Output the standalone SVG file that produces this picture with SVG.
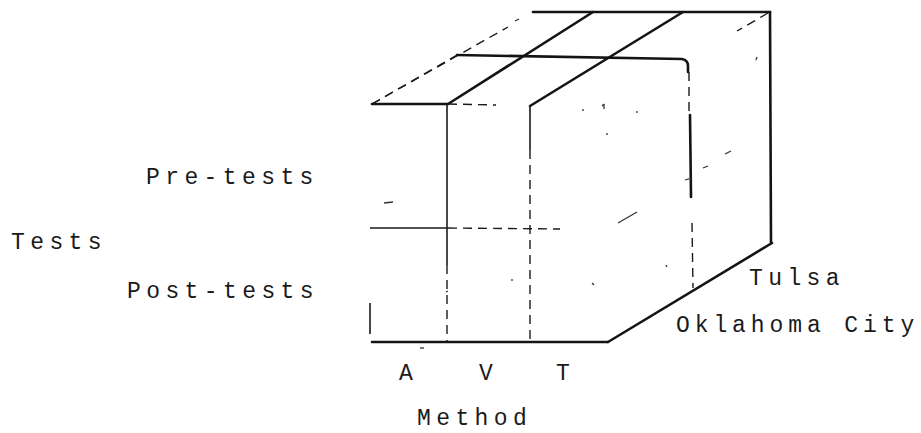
<svg xmlns="http://www.w3.org/2000/svg" width="921" height="433" viewBox="0 0 921 433">
<style>
.t{font-family:"Liberation Mono","Courier New",monospace;font-size:23px;letter-spacing:5.4px;fill:#1a1a1a}
.k{stroke:#141414;stroke-width:2.6;fill:none;stroke-linecap:round}
.m{stroke:#1a1a1a;stroke-width:1.6;fill:none}
.d{stroke:#1a1a1a;stroke-width:1.4;fill:none;stroke-dasharray:9 6}
.s{stroke:#333;stroke-width:1.3;fill:none}
</style>
<rect width="921" height="433" fill="#fff"/>
<g id="cube">
  <line class="k" x1="533" y1="12" x2="770" y2="12"/>
  <line class="d" x1="372" y1="104" x2="508" y2="27" stroke-width="1.8"/>
  <line class="s" x1="515" y1="21" x2="519" y2="19"/>
  <line class="k" x1="448" y1="104" x2="593" y2="12"/>
  <line class="k" x1="530" y1="106" x2="683" y2="12"/>
  <path class="k" d="M457 55 L682 59 Q688 60 688 66 L688 72" stroke-width="2"/>
  <line class="d" x1="372" y1="104" x2="457" y2="55" stroke-width="1.6"/>
  <line class="d" x1="768" y1="13" x2="737" y2="31"/>
  <line class="k" x1="372" y1="104" x2="448" y2="104" stroke-width="2"/>
  <line class="d" x1="448" y1="104" x2="496" y2="105" stroke-dasharray="14 4"/>
  <line class="m" x1="447" y1="104" x2="447" y2="265"/>
  <line class="d" x1="447" y1="265" x2="447" y2="342" stroke-dasharray="16 4"/>
  <line class="m" x1="530" y1="106" x2="530" y2="150"/>
  <line class="d" x1="530" y1="150" x2="530" y2="342" stroke-dasharray="14 7"/>
  <line class="m" x1="370" y1="303" x2="370" y2="334"/>
  <line class="m" x1="370" y1="228" x2="448" y2="228" stroke-width="2"/>
  <line class="d" x1="448" y1="228" x2="560" y2="229"/>
  <line class="k" x1="372" y1="342" x2="608" y2="342" stroke-width="2"/>
  <line class="k" x1="770" y1="12" x2="771" y2="243" stroke-width="3"/>
  <line class="k" x1="608" y1="342" x2="772" y2="243" stroke-width="2.2"/>
  <line class="d" x1="689" y1="72" x2="689" y2="115" stroke-dasharray="10 22"/>
  <line class="k" x1="690" y1="115" x2="691" y2="197" stroke-width="2"/>
  <line class="d" x1="692" y1="223" x2="693" y2="288" stroke-dasharray="16 5"/>
  <line class="s" x1="685" y1="180" x2="692" y2="178"/>
  <line class="s" x1="384" y1="203" x2="393" y2="202" stroke-width="1.6"/>
  <line class="s" x1="618" y1="223" x2="637" y2="212" stroke-width="1.6"/>
  <line class="s" x1="703" y1="168" x2="708" y2="166" stroke-width="1.6"/>
  <line class="s" x1="725" y1="154" x2="731" y2="151" stroke-width="1.6"/>
  <line class="s" x1="757" y1="57" x2="756" y2="60"/>
  <line class="s" x1="583" y1="109" x2="583" y2="111"/>
  <line class="s" x1="602" y1="106" x2="604" y2="104"/>
  <line class="s" x1="604" y1="104" x2="604" y2="109"/>
  <line class="s" x1="637" y1="111" x2="637" y2="113"/>
  <line class="s" x1="607" y1="133" x2="607" y2="135"/>
  <line class="s" x1="448" y1="291" x2="446" y2="292"/>
  <line class="s" x1="512" y1="279" x2="512" y2="281"/>
  <line class="s" x1="592" y1="283" x2="594" y2="285"/>
  <line class="s" x1="666" y1="265" x2="667" y2="267"/>
  <line class="s" x1="420" y1="348" x2="424" y2="348"/>
</g>
<g id="labels">
  <text class="t" x="146" y="184">Pre-tests</text>
  <text class="t" x="11" y="249">Tests</text>
  <text class="t" x="127" y="298">Post-tests</text>
  <text class="t" x="399" y="380">A</text>
  <text class="t" x="479" y="380">V</text>
  <text class="t" x="556" y="380">T</text>
  <text class="t" x="417" y="425">Method</text>
  <text class="t" x="749" y="285">Tulsa</text>
  <text class="t" x="676" y="332" style="letter-spacing:4.9px">Oklahoma City</text>
</g>
</svg>
